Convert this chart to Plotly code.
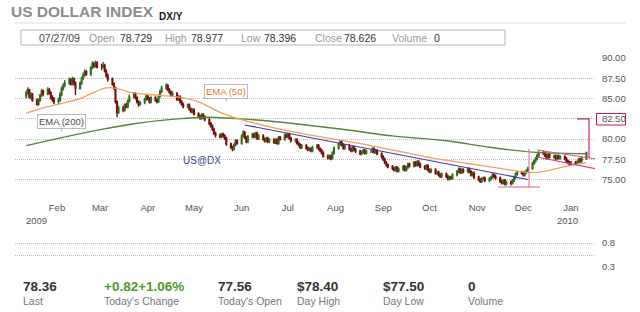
import plotly.graph_objects as go
import pandas as pd

# ---------------- data ----------------
# Daily candles, trading days from 12 Jan 2009 to 11 Jan 2010 (5 per row = 1 week)
opens = [
    85.3, 85.7, 86.1, 85.2, 85.5,  84.8, 84.3, 84.8, 85.4, 85.9,
    85.6, 86.1, 85.7, 85.1, 84.9,  84.6, 84.8, 85.5, 86.2, 86.6,
    86.9, 87.3, 86.8, 87.4, 86.9,  86.3, 86.9, 87.5, 87.9, 88.3,
    88.0, 88.8, 89.3, 89.0, 89.4,  88.9, 88.9, 89.1, 88.4, 87.8,
    87.4, 86.8, 86.3, 84.6, 83.3,  83.8, 83.6, 84.2, 84.0, 84.7,
    85.2, 85.6, 85.1, 84.6, 84.3,  84.5, 84.9, 85.3, 85.0, 84.6,
    85.1, 84.8, 84.6, 85.3, 85.9,  86.3, 86.6, 86.1, 85.8, 85.4,
    85.6, 84.9, 85.2, 84.6, 84.3,  84.0, 84.2, 83.7, 83.4, 83.6,
    83.1, 82.8, 82.6, 83.0, 82.7,  82.4, 81.9, 81.6, 81.2, 80.7,
    80.5, 80.3, 80.6, 80.4, 80.1,  79.4, 79.0, 78.8, 79.3, 79.8,
    79.5, 80.4, 80.8, 80.2, 79.7,  80.3, 80.6, 80.3, 80.7, 80.1,
    80.4, 80.0, 79.8, 80.1, 79.7,  79.9, 79.6, 79.9, 79.5, 80.2,
    80.0, 80.5, 80.3, 80.6, 80.1,  79.8, 79.9, 79.5, 79.3, 79.0,
    79.2, 78.9, 78.7, 78.8, 78.6,  79.0, 79.2, 78.8, 78.6, 78.3,
    77.9, 77.7, 77.9, 77.6, 78.3,  78.9, 79.4, 79.7, 79.3, 78.9,
    79.2, 78.8, 78.6, 79.0, 78.7,  78.5, 78.2, 78.4, 78.6, 78.3,
    78.5, 78.5, 78.8, 78.4, 78.6,  78.2, 77.8, 77.5, 77.1, 76.8,
    76.6, 76.4, 76.2, 76.5, 76.1,  76.3, 76.6, 76.2, 76.5, 76.9,
    76.7, 77.1, 76.8, 77.2, 76.9,  76.6, 76.4, 76.7, 76.2, 76.0,
    76.2, 75.8, 75.9, 75.6, 75.4,  75.7, 75.4, 75.1, 75.3, 75.2,
    75.6, 76.0, 76.3, 75.9, 76.2,  76.0, 76.3, 76.0, 75.6, 75.8,
    75.3, 75.0, 74.8, 75.1, 75.2,  74.9, 75.1, 75.3, 75.6, 75.4,
    75.2, 74.8, 74.6, 74.9, 74.5,  74.7, 74.6, 74.9, 75.3, 75.7,
    75.9, 75.8, 75.6, 75.9, 76.1,  76.4, 77.0, 77.3, 77.6, 78.0,
    78.2, 78.3, 78.0, 77.7, 78.1,  77.8, 77.9, 77.6, 77.9, 77.7,
    77.8, 77.6, 77.3, 77.1, 76.9,  77.1, 77.0, 77.2, 77.5, 77.3,
    77.56,
]
highs = [
    86.0, 86.4, 86.2, 85.8, 85.7,  85.0, 85.0, 85.6, 86.2, 86.1,
    86.4, 86.3, 85.9, 85.4, 85.2,  85.1, 85.8, 86.5, 86.9, 87.3,
    87.6, 87.5, 87.7, 87.6, 87.1,  87.1, 87.7, 88.2, 88.6, 88.5,
    89.0, 89.6, 89.5, 89.7, 89.6,  89.3, 89.5, 89.3, 88.6, 88.1,
    87.6, 87.0, 86.5, 84.8, 84.1,  84.1, 84.4, 84.5, 84.9, 85.5,
    85.8, 85.8, 85.3, 84.8, 84.7,  85.1, 85.6, 85.5, 85.2, 85.3,
    85.3, 85.0, 85.5, 86.1, 86.6,  86.9, 86.8, 86.3, 86.0, 85.9,
    85.8, 85.4, 85.4, 84.8, 84.5,  84.4, 84.4, 83.9, 83.8, 83.8,
    83.3, 83.0, 83.2, 83.2, 82.9,  82.6, 82.1, 81.8, 81.4, 80.9,
    80.7, 80.8, 80.8, 80.6, 80.3,  79.6, 79.2, 79.5, 80.0, 80.0,
    80.6, 81.1, 81.0, 80.4, 80.5,  80.8, 80.8, 80.9, 80.9, 80.6,
    80.6, 80.2, 80.3, 80.3, 80.1,  80.1, 80.1, 80.1, 80.4, 80.4,
    80.7, 80.7, 80.8, 80.8, 80.3,  80.1, 80.1, 79.7, 79.5, 79.4,
    79.4, 79.1, 79.0, 79.0, 79.2,  79.4, 79.4, 79.0, 78.8, 78.5,
    78.1, 78.1, 78.1, 78.5, 79.1,  79.6, 79.9, 79.9, 79.5, 79.4,
    79.4, 79.0, 79.2, 79.2, 78.9,  78.7, 78.6, 78.8, 78.8, 78.7,
    78.7, 79.0, 79.0, 78.8, 78.8,  78.4, 78.0, 77.7, 77.3, 77.0,
    76.8, 76.6, 76.7, 76.7, 76.5,  76.8, 76.8, 76.7, 77.1, 77.1,
    77.3, 77.3, 77.4, 77.4, 77.1,  76.8, 76.9, 76.9, 76.4, 76.4,
    76.4, 76.1, 76.1, 75.8, 75.9,  75.9, 75.6, 75.5, 75.5, 75.8,
    76.2, 76.5, 76.5, 76.4, 76.4,  76.5, 76.5, 76.2, 76.0, 76.0,
    75.5, 75.2, 75.3, 75.4, 75.4,  75.3, 75.5, 75.8, 75.8, 75.6,
    75.4, 75.0, 75.1, 75.1, 74.9,  74.9, 75.1, 75.5, 75.9, 76.1,
    76.1, 76.0, 76.1, 76.3, 76.6,  77.2, 77.5, 77.8, 78.2, 78.5,
    78.6, 78.5, 78.2, 78.3, 78.3,  78.1, 78.1, 78.1, 78.1, 78.0,
    78.0, 77.8, 77.5, 77.3, 77.3,  77.3, 77.4, 77.7, 77.7, 77.9,
    78.40,
]
lows = [
    85.0, 85.5, 85.0, 84.9, 84.6,  84.1, 84.1, 84.6, 85.2, 85.3,
    85.4, 85.5, 84.9, 84.6, 84.3,  84.3, 84.6, 85.3, 86.0, 86.4,
    86.7, 86.6, 86.6, 86.6, 85.4,  86.1, 86.7, 87.3, 87.7, 87.8,
    87.8, 88.6, 88.8, 88.8, 88.7,  88.5, 88.7, 88.2, 87.6, 87.1,
    86.6, 86.1, 84.4, 82.7, 83.1,  83.3, 83.4, 83.8, 83.8, 84.5,
    85.0, 84.9, 84.4, 84.0, 84.1,  84.3, 84.7, 84.8, 84.4, 84.4,
    84.6, 84.4, 84.5, 85.1, 85.7,  86.1, 85.9, 85.6, 85.2, 85.2,
    84.7, 84.7, 84.4, 84.1, 83.8,  83.8, 83.5, 83.2, 83.2, 82.9,
    82.6, 82.4, 82.4, 82.5, 82.2,  81.7, 81.4, 81.0, 80.5, 80.2,
    80.1, 80.1, 80.2, 79.9, 79.2,  78.8, 78.5, 78.6, 79.1, 79.3,
    79.3, 80.2, 80.0, 79.5, 79.5,  80.1, 80.1, 80.1, 79.9, 79.9,
    79.8, 79.6, 79.6, 79.5, 79.5,  79.4, 79.4, 79.3, 79.3, 79.8,
    79.8, 80.1, 80.1, 79.9, 79.6,  79.6, 79.3, 79.1, 78.8, 78.8,
    78.7, 78.5, 78.5, 78.4, 78.4,  78.8, 78.6, 78.4, 78.1, 77.7,
    77.5, 77.5, 77.4, 77.5, 78.1,  78.7, 79.2, 79.1, 78.7, 78.7,
    78.6, 78.4, 78.4, 78.5, 78.3,  78.0, 78.0, 78.2, 78.1, 78.1,
    78.3, 78.3, 78.2, 78.2, 78.0,  77.6, 77.3, 76.9, 76.6, 76.4,
    76.2, 76.0, 76.0, 75.9, 75.9,  76.1, 76.0, 76.0, 76.3, 76.5,
    76.5, 76.6, 76.6, 76.7, 76.4,  76.2, 76.2, 76.0, 75.8, 75.8,
    75.6, 75.6, 75.4, 75.2, 75.2,  75.2, 74.9, 74.9, 75.0, 75.0,
    75.4, 75.8, 75.7, 75.7, 75.8,  75.8, 75.8, 75.4, 75.4, 75.1,
    74.8, 74.6, 74.6, 74.9, 74.7,  74.7, 74.9, 75.1, 75.2, 75.0,
    74.6, 74.4, 74.4, 74.3, 74.3,  74.3, 74.4, 74.7, 75.1, 75.5,
    75.6, 75.4, 75.4, 75.7, 75.9,  76.2, 76.8, 77.1, 77.4, 77.8,
    78.0, 77.8, 77.5, 77.5, 77.6,  77.6, 77.4, 77.4, 77.5, 77.5,
    77.4, 77.1, 76.9, 76.7, 76.7,  76.8, 76.8, 77.0, 77.1, 77.1,
    77.50,
]
closes = [
    85.7, 86.1, 85.2, 85.5, 84.8,  84.3, 84.8, 85.4, 85.9, 85.6,
    86.1, 85.7, 85.1, 84.9, 84.6,  84.8, 85.5, 86.2, 86.6, 86.9,
    87.3, 86.8, 87.4, 86.9, 86.3,  86.9, 87.5, 87.9, 88.3, 88.0,
    88.8, 89.3, 89.0, 89.4, 88.9,  88.9, 89.1, 88.4, 87.8, 87.4,
    86.8, 86.3, 84.6, 83.3, 83.8,  83.6, 84.2, 84.0, 84.7, 85.2,
    85.6, 85.1, 84.6, 84.3, 84.5,  84.9, 85.3, 85.0, 84.6, 85.1,
    84.8, 84.6, 85.3, 85.9, 86.3,  86.6, 86.1, 85.8, 85.4, 85.6,
    84.9, 85.2, 84.6, 84.3, 84.0,  84.2, 83.7, 83.4, 83.6, 83.1,
    82.8, 82.6, 83.0, 82.7, 82.4,  81.9, 81.6, 81.2, 80.7, 80.5,
    80.3, 80.6, 80.4, 80.1, 79.4,  79.0, 78.8, 79.3, 79.8, 79.5,
    80.4, 80.8, 80.2, 79.7, 80.3,  80.6, 80.3, 80.7, 80.1, 80.4,
    80.0, 79.8, 80.1, 79.7, 79.9,  79.6, 79.9, 79.5, 80.2, 80.0,
    80.5, 80.3, 80.6, 80.1, 79.8,  79.9, 79.5, 79.3, 79.0, 79.2,
    78.9, 78.7, 78.8, 78.6, 79.0,  79.2, 78.8, 78.6, 78.3, 77.9,
    77.7, 77.9, 77.6, 78.3, 78.9,  79.4, 79.7, 79.3, 78.9, 79.2,
    78.8, 78.6, 79.0, 78.7, 78.5,  78.2, 78.4, 78.6, 78.3, 78.5,
    78.5, 78.8, 78.4, 78.6, 78.2,  77.8, 77.5, 77.1, 76.8, 76.6,
    76.4, 76.2, 76.5, 76.1, 76.3,  76.6, 76.2, 76.5, 76.9, 76.7,
    77.1, 76.8, 77.2, 76.9, 76.6,  76.4, 76.7, 76.2, 76.0, 76.2,
    75.8, 75.9, 75.6, 75.4, 75.7,  75.4, 75.1, 75.3, 75.2, 75.6,
    76.0, 76.3, 75.9, 76.2, 76.0,  76.3, 76.0, 75.6, 75.8, 75.3,
    75.0, 74.8, 75.1, 75.2, 74.9,  75.1, 75.3, 75.6, 75.4, 75.2,
    74.8, 74.6, 74.9, 74.5, 74.7,  74.6, 74.9, 75.3, 75.7, 75.9,
    75.8, 75.6, 75.9, 76.1, 76.4,  77.0, 77.3, 77.6, 78.0, 78.2,
    78.3, 78.0, 77.7, 78.1, 77.8,  77.9, 77.6, 77.9, 77.7, 77.8,
    77.6, 77.3, 77.1, 76.9, 77.1,  77.0, 77.2, 77.5, 77.3, 77.6,
    78.36,
]
dates = pd.bdate_range("2009-01-12", periods=len(closes))

ema50_dates = ["2009-01-12", "2009-01-26", "2009-02-16", "2009-03-04", "2009-03-11",
               "2009-03-20", "2009-04-01", "2009-04-20", "2009-05-04", "2009-05-18",
               "2009-06-01", "2009-06-22", "2009-07-13", "2009-08-03", "2009-08-24",
               "2009-09-14", "2009-10-05", "2009-10-26", "2009-11-16", "2009-12-04",
               "2009-12-14", "2009-12-28", "2010-01-11"]
ema50_vals = [83.2, 84.0, 85.0, 86.3, 86.3, 85.8, 85.5, 85.2, 84.6, 83.3,
              82.4, 81.4, 80.6, 79.9, 79.2, 78.4, 77.6, 77.0, 76.4, 75.9,
              76.0, 76.6, 77.1]

ema200_dates = ["2009-01-12", "2009-02-02", "2009-03-02", "2009-03-23", "2009-04-20",
                "2009-05-11", "2009-06-01", "2009-07-06", "2009-08-10", "2009-09-07",
                "2009-10-12", "2009-11-09", "2009-12-07", "2010-01-11"]
ema200_vals = [79.2, 80.1, 81.2, 81.9, 82.5, 82.7, 82.5, 81.9, 81.1, 80.4,
               79.8, 79.0, 78.4, 78.2]

trend_dates = ["2009-06-03", "2009-12-04"]
trend_vals = [81.75, 75.03]
flag_up_dates = ["2009-12-10", "2010-01-18"]
flag_up_vals = [78.66, 77.55]
flag_lo_dates = ["2009-12-10", "2010-01-18"]
flag_lo_vals = [77.80, 76.32]
pole_dates = ["2009-12-04 17:00", "2009-12-04 17:00"]
pole_vals = [78.78, 74.10]
base_dates = ["2009-11-14 14:00", "2009-12-11 19:00"]
base_vals = [74.10, 74.10]
target_dates = ["2010-01-04 22:00", "2010-01-12 17:00", "2010-01-12 17:00"]
target_vals = [82.50, 82.50, 77.68]

month_ticks = ["2009-02-01", "2009-03-01", "2009-04-01", "2009-05-01", "2009-06-01",
               "2009-07-01", "2009-08-01", "2009-09-01", "2009-10-01", "2009-11-01",
               "2009-12-01", "2010-01-01"]
month_labels = ["Feb", "Mar", "Apr", "May", "Jun", "Jul", "Aug", "Sep", "Oct", "Nov", "Dec", "Jan"]
price_ticks = [72.5, 75.0, 77.5, 80.0, 82.5, 85.0, 87.5, 90.0]
price_labels = ["", "75.00", "77.50", "80.00", "82.50", "85.00", "87.50", "90.00"]
lower_ticks = [0.3, 0.55, 0.8, 1.05]
lower_labels = ["0.3", "", "0.8", ""]

info_date = "07/27/09"
info_fields = ["Open", "High", "Low", "Close", "Volume"]
info_values = ["78.729", "78.977", "78.396", "78.626", "0"]

stat_values = ["78.36", "+0.82+1.06%", "77.56", "$78.40", "$77.50", "0"]
stat_labels = ["Last", "Today's Change", "Today's Open", "Day High", "Day Low", "Volume"]

# ---------------- layout helpers ----------------
FONT = "Liberation Sans, Arial, sans-serif"
PL, PR, PT, PB = 15, 595, 58, 267  # plot area in pixels
W, H = PR - PL, PB - PT


def px(x):
    return (x - PL) / W


def py(y):
    return (PB - y) / H


def label(text, x, y, size, color, anchor="left", bold=False):
    if bold:
        text = "<b>" + text + "</b>"
    return dict(text=text, xref="paper", yref="paper", x=px(x), y=py(y),
                xanchor=anchor, yanchor="middle", showarrow=False,
                font=dict(family=FONT, size=size, color=color))


fig = go.Figure()

fig.add_trace(go.Scatter(x=ema200_dates, y=ema200_vals, mode="lines",
                         line=dict(color="#55853a", width=1.4, shape="spline", smoothing=0.8),
                         hoverinfo="skip"))
fig.add_trace(go.Scatter(x=ema50_dates, y=ema50_vals, mode="lines",
                         line=dict(color="#f3a060", width=1.3, shape="spline", smoothing=0.8),
                         hoverinfo="skip"))
fig.add_trace(go.Candlestick(
    x=dates, open=opens, high=highs, low=lows, close=closes,
    increasing=dict(line=dict(color="#356b22", width=1.4), fillcolor="#6fae4c"),
    decreasing=dict(line=dict(color="#7a0c0c", width=1.4), fillcolor="#c01818"),
    whiskerwidth=0, hoverinfo="skip"))
fig.add_trace(go.Scatter(x=trend_dates, y=trend_vals, mode="lines",
                         line=dict(color="#3a36a8", width=1.1), hoverinfo="skip"))
for xs, ys, col in [(flag_up_dates, flag_up_vals, "#e6508a"),
                    (flag_lo_dates, flag_lo_vals, "#e0407a"),
                    (pole_dates, pole_vals, "#e86aa0"),
                    (base_dates, base_vals, "#e05c92"),
                    (target_dates, target_vals, "#c2185b")]:
    fig.add_trace(go.Scatter(x=xs, y=ys, mode="lines", line=dict(color=col, width=1.1),
                             hoverinfo="skip"))
# empty lower panel
fig.add_trace(go.Scatter(x=[], y=[], xaxis="x2", yaxis="y2", hoverinfo="skip"))

x_range = ["2009-01-04 17:00", "2010-01-16 14:24"]
grid = dict(showgrid=True, gridcolor="#bdbdbd", griddash="1px,1px", gridwidth=1)
tickfont = dict(family=FONT, size=9.5, color="#555555")

fig.update_layout(
    width=640, height=312,
    margin=dict(l=PL, r=640 - PR, t=PT, b=312 - PB),
    paper_bgcolor="white", plot_bgcolor="white", showlegend=False,
    xaxis=dict(type="date", range=x_range, domain=[0, 1], anchor="y",
               tickvals=month_ticks, ticktext=month_labels, ticks="",
               showgrid=False, zeroline=False, showline=False,
               tickfont=tickfont, rangeslider=dict(visible=False)),
    yaxis=dict(range=[72.5, 90], domain=[py(200), 1], side="right",
               tickvals=price_ticks, ticktext=price_labels, zeroline=False,
               ticks="outside", ticklen=4, tickcolor="rgba(0,0,0,0)",
               tickfont=tickfont, **grid),
    xaxis2=dict(type="date", range=x_range, domain=[0, 1], anchor="y2",
                showticklabels=False, showgrid=False, zeroline=False, ticks=""),
    yaxis2=dict(range=[0.3, 1.05], domain=[0, py(231)], side="right",
                tickvals=lower_ticks, ticktext=lower_labels, zeroline=False,
                ticks="outside", ticklen=4, tickcolor="rgba(0,0,0,0)",
                tickfont=tickfont, **grid),
)

ann = []
ann.append(label("US DOLLAR INDEX", 9, 12, 15.5, "#8c8c8c", bold=True))
ann.append(label("DX/Y", 157, 16, 10, "#1a1a1a", bold=True))
ann.append(label(info_date, 37, 37.5, 10.5, "#444444"))
for f, v, fx, vx in zip(info_fields, info_values,
                        [87, 163, 239, 313, 390], [118, 189, 262, 342, 432]):
    ann.append(label(f, fx, 37.5, 10.5, "#9a9a9a"))
    ann.append(label(v, vx, 37.5, 10.5, "#333333"))
ann.append(label("2009", 36, 220, 9.5, "#555555", anchor="center"))
ann.append(label("2010", 567, 220, 9.5, "#555555", anchor="center"))
for v, l, sx in zip(stat_values, stat_labels, [21, 102, 216, 295, 381, 466]):
    col = "#4f9a2c" if v.startswith("+") else "#333333"
    ann.append(label(v, sx, 286, 13.5, col, bold=True))
    ann.append(label(l, sx, 301, 10.5, "#777777"))

# indicator call-outs
ann.append(dict(text="EMA (200)", xref="x", yref="y", x="2009-02-04", y=80.94,
                showarrow=True, arrowhead=0, arrowwidth=1, arrowcolor="#aaaaaa",
                ax=0, ay=-10, bgcolor="white", bordercolor="#bbbbbb", borderwidth=1,
                borderpad=1, font=dict(family=FONT, size=9.5, color="#4a4a4a")))
ann.append(dict(text="EMA (50)", xref="x", yref="y", x="2009-05-22", y=84.64,
                showarrow=True, arrowhead=0, arrowwidth=1, arrowcolor="#aaaaaa",
                ax=0, ay=-10, bgcolor="white", bordercolor="#bbbbbb", borderwidth=1,
                borderpad=1, font=dict(family=FONT, size=9.5, color="#e0782a")))
ann.append(dict(text="US@DX", xref="x", yref="y", x="2009-05-06", y=77.43,
                showarrow=False, font=dict(family=FONT, size=10, color="#3b4a8c")))
fig.update_layout(annotations=ann)

shapes = [
    dict(type="line", xref="paper", yref="paper", x0=px(15), x1=px(626),
         y0=py(23), y1=py(23), line=dict(color="#d3e2ee", width=1.2)),
    dict(type="rect", xref="paper", yref="paper", x0=px(21), x1=px(505),
         y0=py(45), y1=py(30), line=dict(color="#b5b5b5", width=1), fillcolor="rgba(0,0,0,0)"),
    dict(type="rect", xref="paper", yref="paper", x0=px(596.5), x1=px(625.5),
         y0=py(125), y1=py(113.5), line=dict(color="#c2185b", width=1), fillcolor="rgba(0,0,0,0)"),
]
fig.update_layout(shapes=shapes)

fig.write_html("out.html")
